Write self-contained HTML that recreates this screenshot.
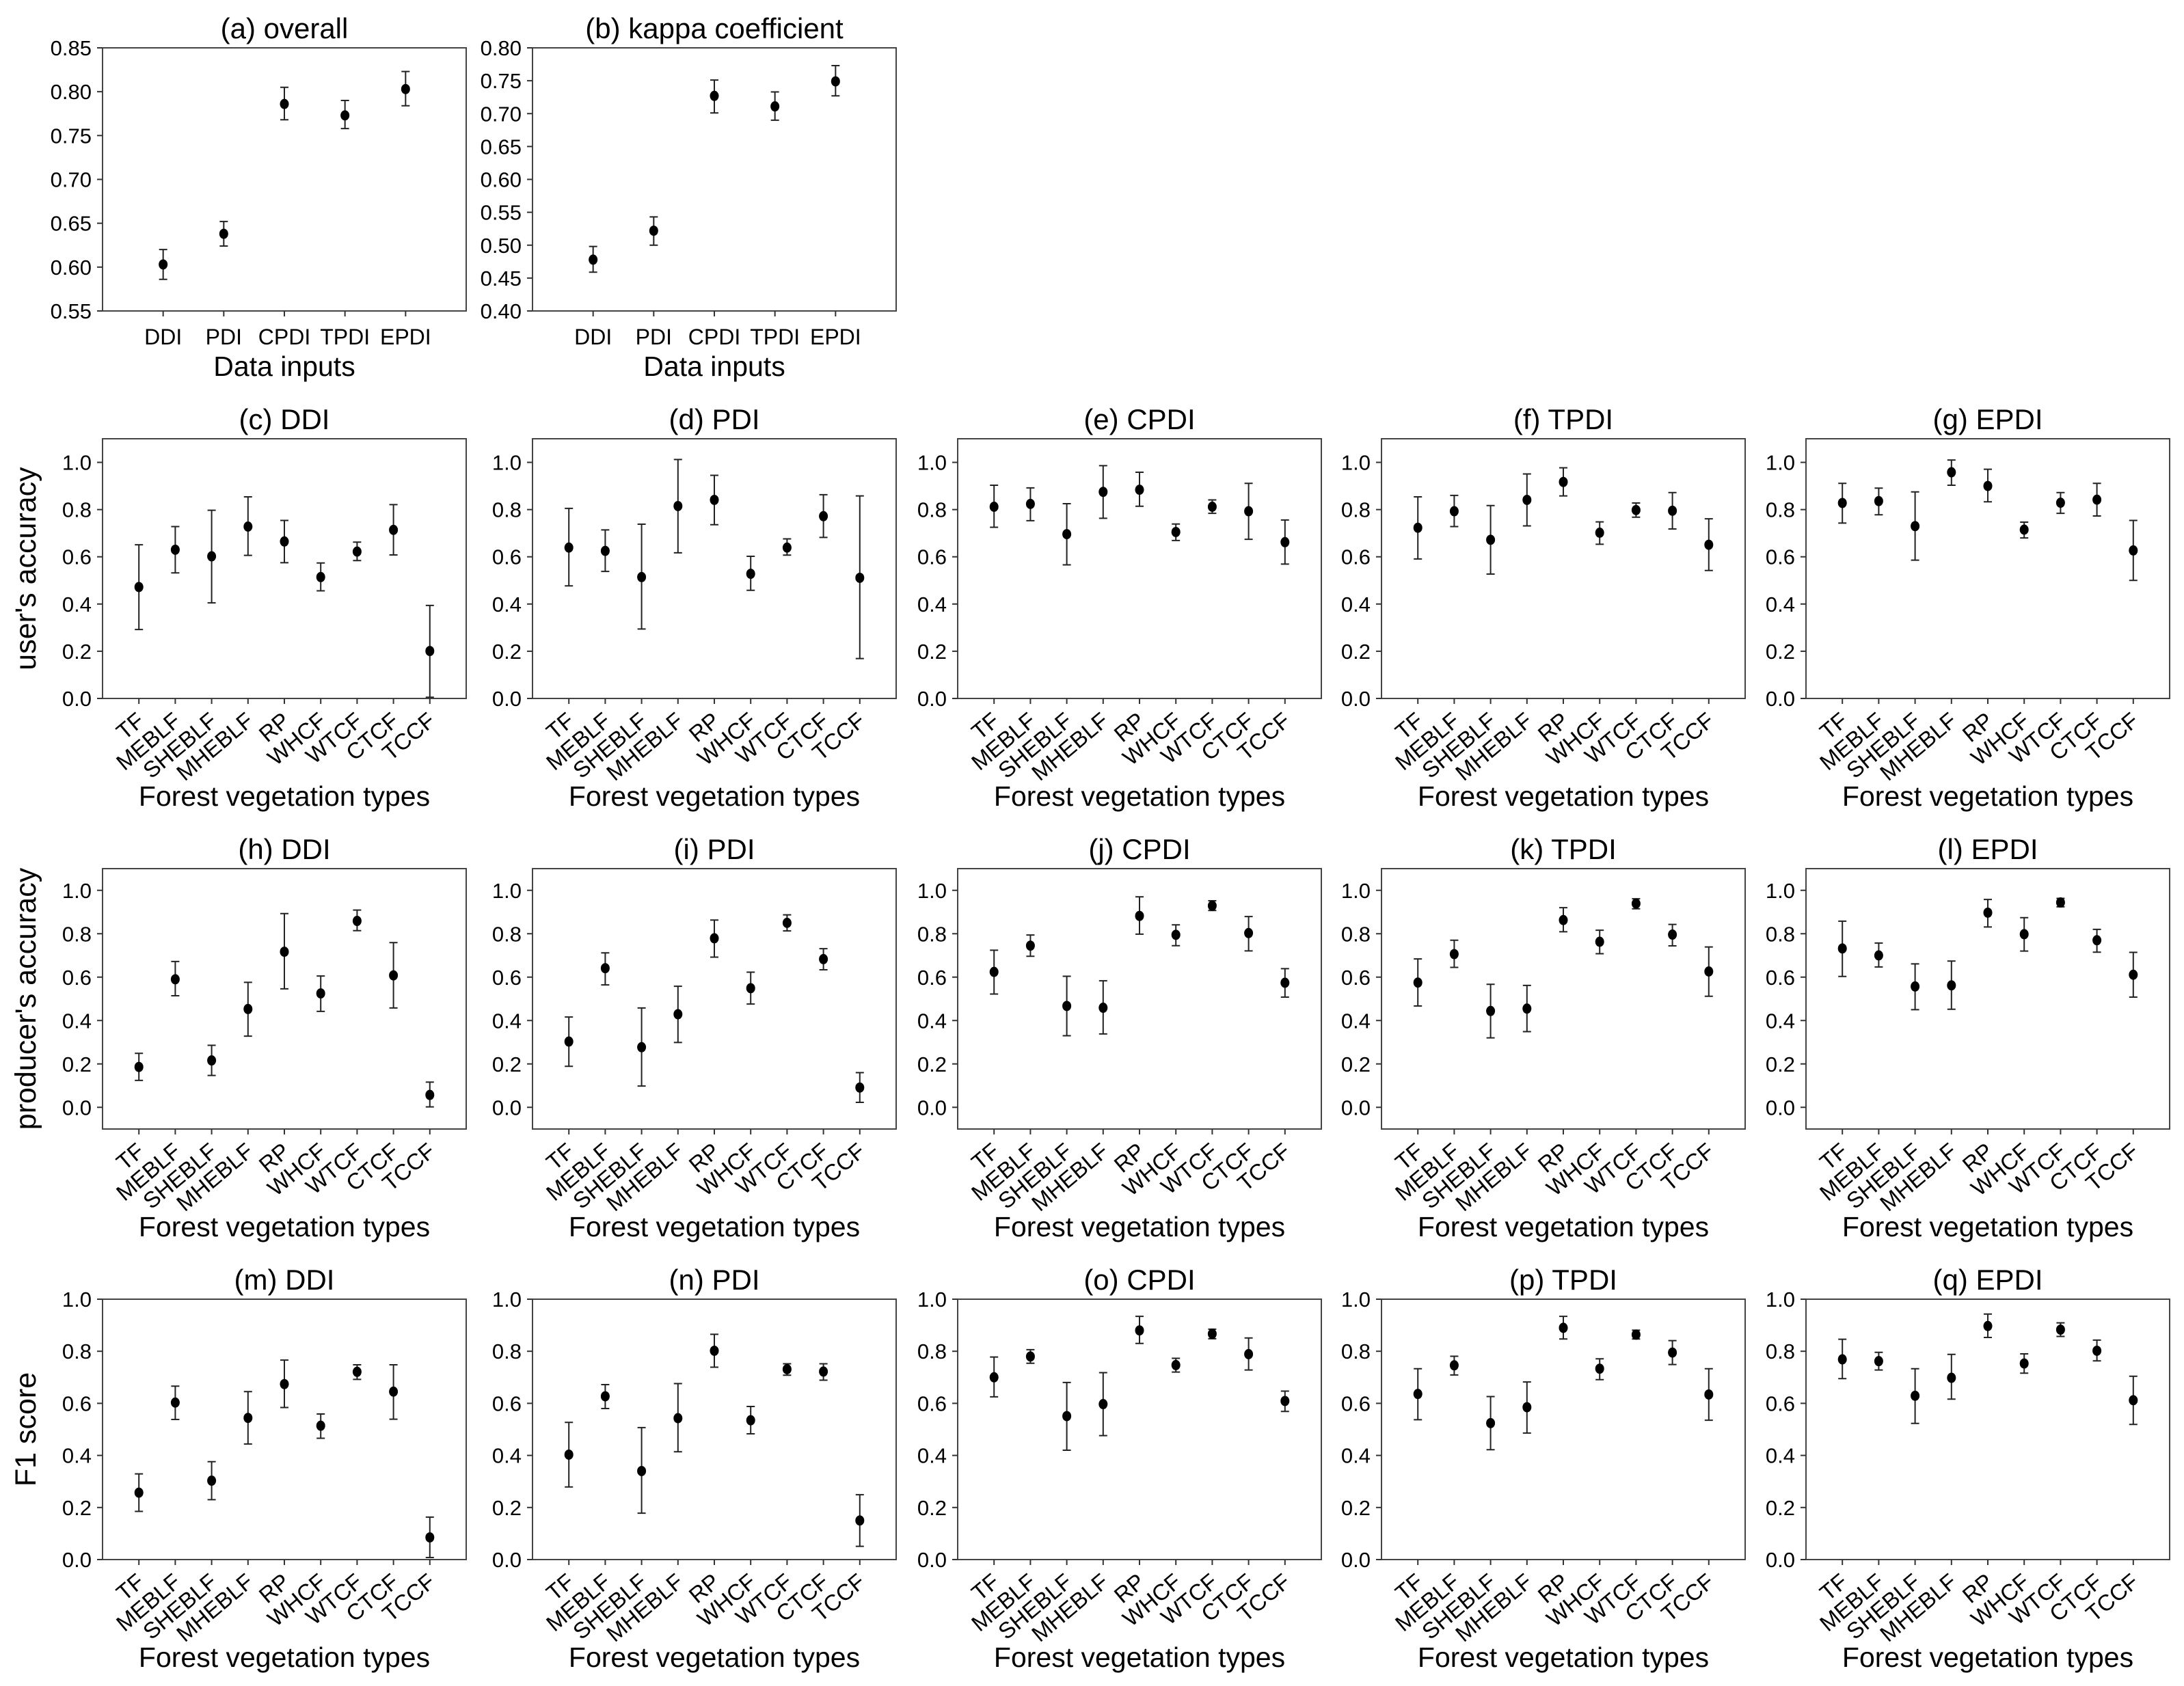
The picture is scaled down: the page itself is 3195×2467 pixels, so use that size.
<!DOCTYPE html>
<html><head><meta charset="utf-8">
<style>
html,body{margin:0;padding:0;background:#fff;}
svg{display:block;font-family:"Liberation Sans",Arial,sans-serif;}
</style></head>
<body>
<svg id="fig" width="3195" height="2467" viewBox="0 0 3195 2467" xmlns="http://www.w3.org/2000/svg"></svg>
<script>
// ---- categories ----
const inputCats = ["DDI","PDI","CPDI","TPDI","EPDI"];
const forestCats = ["TF","MEBLF","SHEBLF","MHEBLF","RP","WHCF","WTCF","CTCF","TCCF"];
// ---- (a) overall, (b) kappa ----
const overall   = [0.603,0.638,0.786,0.773,0.803];
const overallLo = [0.586,0.624,0.768,0.758,0.784];
const overallHi = [0.620,0.652,0.805,0.790,0.823];
const kappa   = [0.478,0.522,0.727,0.711,0.749];
const kappaLo = [0.459,0.500,0.701,0.690,0.727];
const kappaHi = [0.498,0.543,0.751,0.733,0.773];
// ---- user's accuracy ----
const uaDDI   = [0.472,0.630,0.602,0.728,0.665,0.514,0.622,0.714,0.201];
const uaDDIlo = [0.292,0.532,0.405,0.606,0.575,0.456,0.584,0.608,0.005];
const uaDDIhi = [0.651,0.728,0.797,0.854,0.754,0.574,0.662,0.821,0.394];
const uaPDI   = [0.639,0.625,0.514,0.815,0.841,0.528,0.639,0.772,0.511];
const uaPDIlo = [0.477,0.538,0.294,0.617,0.736,0.458,0.607,0.682,0.169];
const uaPDIhi = [0.805,0.714,0.738,1.012,0.945,0.602,0.676,0.863,0.858];
const uaCPDI   = [0.812,0.824,0.696,0.875,0.884,0.705,0.812,0.793,0.662];
const uaCPDIlo = [0.725,0.753,0.566,0.763,0.814,0.669,0.784,0.674,0.569];
const uaCPDIhi = [0.903,0.892,0.825,0.986,0.958,0.739,0.841,0.911,0.756];
const uaTPDI   = [0.723,0.793,0.672,0.841,0.917,0.702,0.798,0.795,0.651];
const uaTPDIlo = [0.591,0.728,0.527,0.731,0.858,0.653,0.768,0.718,0.542];
const uaTPDIhi = [0.854,0.860,0.817,0.951,0.977,0.748,0.828,0.872,0.761];
const uaEPDI   = [0.828,0.836,0.730,0.958,0.900,0.715,0.829,0.842,0.627];
const uaEPDIlo = [0.743,0.778,0.586,0.903,0.833,0.680,0.784,0.773,0.500];
const uaEPDIhi = [0.911,0.891,0.875,1.010,0.971,0.747,0.872,0.911,0.754];
// ---- producer's accuracy ----
const paDDI   = [0.186,0.590,0.216,0.453,0.717,0.525,0.859,0.608,0.057];
const paDDIlo = [0.124,0.514,0.147,0.328,0.546,0.442,0.814,0.458,0.002];
const paDDIhi = [0.249,0.672,0.286,0.576,0.893,0.605,0.909,0.759,0.116];
const paPDI   = [0.303,0.641,0.277,0.429,0.779,0.549,0.850,0.683,0.091];
const paPDIlo = [0.189,0.564,0.098,0.299,0.692,0.476,0.813,0.634,0.023];
const paPDIhi = [0.416,0.712,0.458,0.558,0.863,0.623,0.887,0.731,0.160];
const paCPDI   = [0.624,0.745,0.467,0.459,0.882,0.795,0.929,0.803,0.574];
const paCPDIlo = [0.522,0.696,0.330,0.338,0.798,0.745,0.907,0.721,0.508];
const paCPDIhi = [0.724,0.794,0.604,0.583,0.970,0.841,0.952,0.879,0.639];
const paTPDI   = [0.575,0.706,0.444,0.455,0.863,0.763,0.939,0.796,0.626];
const paTPDIlo = [0.467,0.645,0.320,0.349,0.809,0.708,0.915,0.744,0.512];
const paTPDIhi = [0.684,0.770,0.567,0.562,0.920,0.816,0.961,0.843,0.739];
const paEPDI   = [0.732,0.700,0.557,0.562,0.897,0.798,0.944,0.770,0.611];
const paEPDIlo = [0.603,0.647,0.450,0.452,0.831,0.720,0.924,0.715,0.508];
const paEPDIhi = [0.858,0.757,0.661,0.674,0.958,0.874,0.963,0.820,0.714];
// ---- F1 score ----
const f1DDI   = [0.257,0.603,0.303,0.544,0.674,0.514,0.721,0.645,0.085];
const f1DDIlo = [0.185,0.538,0.230,0.444,0.584,0.466,0.692,0.539,0.008];
const f1DDIhi = [0.329,0.666,0.376,0.645,0.766,0.559,0.748,0.748,0.163];
const f1PDI   = [0.403,0.627,0.340,0.543,0.802,0.535,0.731,0.722,0.150];
const f1PDIlo = [0.279,0.580,0.178,0.414,0.739,0.483,0.708,0.689,0.051];
const f1PDIhi = [0.527,0.672,0.507,0.676,0.865,0.588,0.752,0.752,0.249];
const f1CPDI   = [0.700,0.780,0.551,0.597,0.880,0.747,0.867,0.789,0.609];
const f1CPDIlo = [0.625,0.754,0.420,0.476,0.830,0.720,0.848,0.728,0.569];
const f1CPDIhi = [0.778,0.806,0.680,0.718,0.934,0.773,0.885,0.851,0.647];
const f1TPDI   = [0.636,0.746,0.524,0.585,0.890,0.733,0.864,0.795,0.634];
const f1TPDIlo = [0.537,0.709,0.422,0.486,0.847,0.691,0.847,0.749,0.535];
const f1TPDIhi = [0.733,0.781,0.626,0.682,0.934,0.771,0.881,0.841,0.733];
const f1EPDI   = [0.769,0.762,0.629,0.698,0.897,0.753,0.883,0.802,0.612];
const f1EPDIlo = [0.695,0.728,0.523,0.616,0.853,0.716,0.857,0.763,0.519];
const f1EPDIhi = [0.846,0.796,0.733,0.788,0.943,0.790,0.909,0.843,0.704];
// ---- tick labels ----
const ticksA = ["0.55","0.60","0.65","0.70","0.75","0.80","0.85"];
const ticksB = ["0.40","0.45","0.50","0.55","0.60","0.65","0.70","0.75","0.80"];
const ticksAcc = ["0.0","0.2","0.4","0.6","0.8","1.0"];

const NS="http://www.w3.org/2000/svg";
const svg=document.getElementById('fig');
function mk(tag,attrs,parent){const e=document.createElementNS(NS,tag);for(const k in attrs)e.setAttribute(k,attrs[k]);(parent||svg).appendChild(e);return e;}

const colX=[150,779,1401,2021,2642];
const W=532;
const rows=[{top:70,bot:455},{top:642,bot:1022},{top:1271,bot:1652},{top:1901,bot:2282}];

function panel(key,title,col,row,cats,vals,lo,hi,ymin,ymax,ticks,rot,xtitle){
  const L=colX[col],R=L+W,T=rows[row].top,B=rows[row].bot;
  const g=mk('g',{});
  
  
  const yS=v=>B-(v-ymin)/(ymax-ymin)*(B-T);
  const n=cats.length;
  const xS=i=>L+(i+1)*W/(n+1);
  const t=mk('text',{x:(L+R)/2,y:T-14,'text-anchor':'middle','font-size':42,fill:'#000'},g);
  t.textContent=title;
  
  
  const fr=mk('rect',{x:L,y:T,width:W,height:B-T,fill:'none',stroke:'#444','stroke-width':2},g);
  
  
  ticks.forEach(s=>{
    const v=parseFloat(s),y=yS(v);
    mk('line',{x1:L-8,x2:L,y1:y,y2:y,stroke:'#333','stroke-width':2},g);
    const tl=mk('text',{x:L-16,y:y+11,'text-anchor':'end','font-size':31,fill:'#000'},g);
    tl.textContent=s;
    
    
  });
  cats.forEach((c,i)=>{
    const x=xS(i);
    mk('line',{x1:x,x2:x,y1:B,y2:B+8,stroke:'#333','stroke-width':2},g);
    let tl;
    if(rot){
      tl=mk('text',{x:x+10,y:B+36,'text-anchor':'end','font-size':33,fill:'#000',transform:'rotate(-40 '+(x+10)+' '+(B+36)+')'},g);
    } else {
      tl=mk('text',{x:x,y:B+49,'text-anchor':'middle','font-size':32,fill:'#000'},g);
    }
    tl.textContent=c;
    
    
    const yl=yS(lo[i]),yh=yS(hi[i]),ym=yS(vals[i]);
    const eb=mk('path',{d:'M'+x+' '+yl+'V'+yh+'M'+(x-6)+' '+yl+'H'+(x+6)+'M'+(x-6)+' '+yh+'H'+(x+6),stroke:'#222','stroke-width':2,fill:'none'},g);
    
    
    const dt=mk('ellipse',{cx:x,cy:ym,rx:6.5,ry:7.5,fill:'#000'},g);
    
    
  });
  const xt=mk('text',{x:(L+R)/2,y:rot?B+157:B+95,'text-anchor':'middle','font-size':41,fill:'#000'},g);
  xt.textContent=xtitle;
  
  
}

panel('a','(a) overall',0,0,inputCats,overall,overallLo,overallHi,0.55,0.85,ticksA,false,'Data inputs');
panel('b','(b) kappa coefficient',1,0,inputCats,kappa,kappaLo,kappaHi,0.40,0.80,ticksB,false,'Data inputs');
const names=['DDI','PDI','CPDI','TPDI','EPDI'];
const uaSets=[[uaDDI,uaDDIlo,uaDDIhi],[uaPDI,uaPDIlo,uaPDIhi],[uaCPDI,uaCPDIlo,uaCPDIhi],[uaTPDI,uaTPDIlo,uaTPDIhi],[uaEPDI,uaEPDIlo,uaEPDIhi]];
const paSets=[[paDDI,paDDIlo,paDDIhi],[paPDI,paPDIlo,paPDIhi],[paCPDI,paCPDIlo,paCPDIhi],[paTPDI,paTPDIlo,paTPDIhi],[paEPDI,paEPDIlo,paEPDIhi]];
const f1Sets=[[f1DDI,f1DDIlo,f1DDIhi],[f1PDI,f1PDIlo,f1PDIhi],[f1CPDI,f1CPDIlo,f1CPDIhi],[f1TPDI,f1TPDIlo,f1TPDIhi],[f1EPDI,f1EPDIlo,f1EPDIhi]];
const L1=['c','d','e','f','g'],L2=['h','i','j','k','l'],L3=['m','n','o','p','q'];
for(let c=0;c<5;c++){
  panel(L1[c],'('+L1[c]+') '+names[c],c,1,forestCats,uaSets[c][0],uaSets[c][1],uaSets[c][2],0,1.1,ticksAcc,true,'Forest vegetation types');
  panel(L2[c],'('+L2[c]+') '+names[c],c,2,forestCats,paSets[c][0],paSets[c][1],paSets[c][2],-0.1,1.1,ticksAcc,true,'Forest vegetation types');
  panel(L3[c],'('+L3[c]+') '+names[c],c,3,forestCats,f1Sets[c][0],f1Sets[c][1],f1Sets[c][2],0,1.0,ticksAcc,true,'Forest vegetation types');
}
function ytitle(txt,cy,name){
  const e=mk('text',{x:0,y:0,'text-anchor':'middle','font-size':43,fill:'#000',transform:'translate(52 '+cy+') rotate(-90)'});
  e.textContent=txt;
  
  
}
ytitle("user's accuracy",(642+1022)/2,'y-axis-title-users-accuracy');
ytitle("producer's accuracy",(1271+1652)/2,'y-axis-title-producers-accuracy');
ytitle("F1 score",(1901+2282)/2,'y-axis-title-f1-score');
</script>
</body></html>
